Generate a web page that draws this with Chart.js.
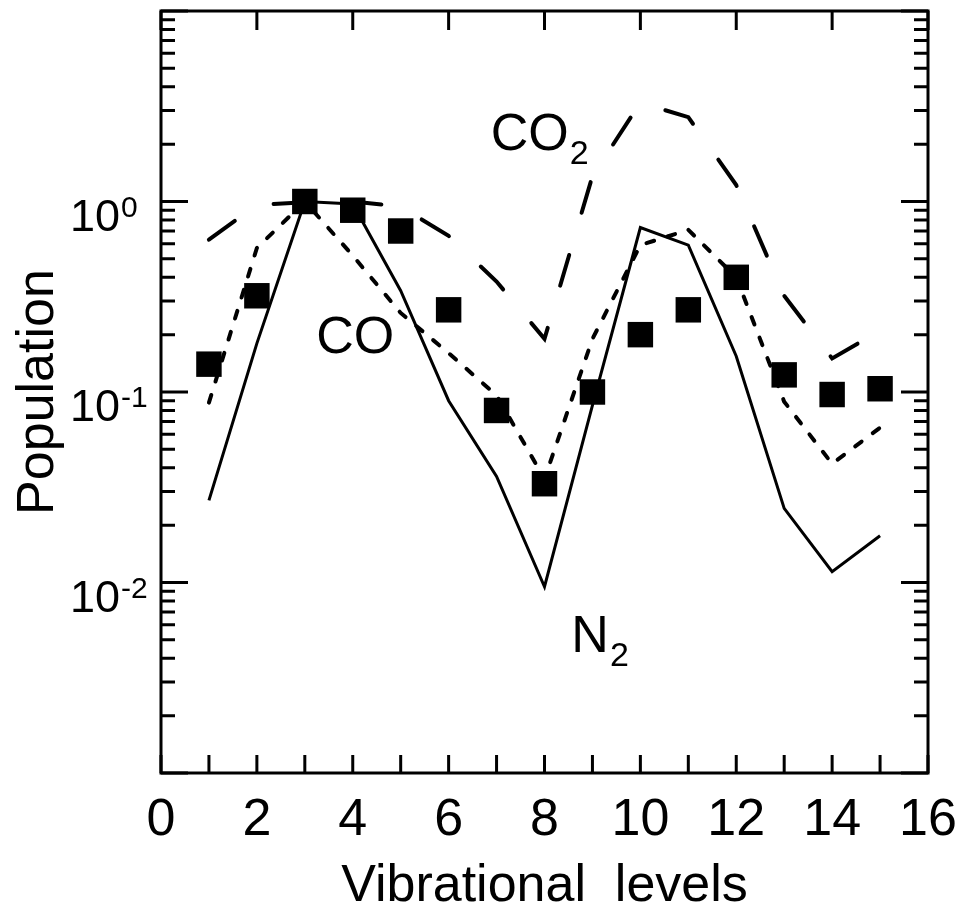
<!DOCTYPE html>
<html>
<head>
<meta charset="utf-8">
<script src="https://cdn.jsdelivr.net/npm/chart.js@4"></script>
<style>
  body { margin: 0; background: #fff; }
  #myChart { display: block; }
</style>
</head>
<body>
<canvas id="myChart" width="960" height="904"></canvas>
<script>
// DATA
const levels = [1, 2, 3, 4, 5, 6, 7, 8, 9, 10, 11, 12, 13, 14, 15];
const measured = [0.14, 0.32, 1.0, 0.90, 0.70, 0.27, 0.080, 0.033, 0.10, 0.20, 0.27, 0.40, 0.123, 0.097, 0.104];
const n2Values = [0.027, 0.18, 1.0, 0.97, 0.34, 0.09, 0.036, 0.0095, 0.085, 0.73, 0.59, 0.154, 0.0245, 0.0114, 0.0176];
const coValues = [0.088, 0.57, 1.0, 0.52, 0.26, 0.16, 0.096, 0.035, 0.19, 0.59, 0.71, 0.40, 0.089, 0.042, 0.065];
const co2Values = [0.63, 0.96, 0.99, 1.0, 0.94, 0.66, 0.38, 0.19, 1.36, 3.3, 2.77, 1.22, 0.32, 0.15, 0.21];

// TICKS
const xTicks = [0, 1, 2, 3, 4, 5, 6, 7, 8, 9, 10, 11, 12, 13, 14, 15, 16];
const xLabels = [0, 2, 4, 6, 8, 10, 12, 14, 16];
const yDecades = [0.001, 0.01, 0.1, 1, 10];
const yLabelValues = [1, 0.1, 0.01];
const yLabelExps = ['0', '-1', '-2'];

const FONT = '"Liberation Sans", Arial, Helvetica, sans-serif';

function toPoints(values) {
  return levels.map((lv, i) => ({ x: lv, y: values[i] }));
}

// FRAME, TICKS AND TEXT
const framePlugin = {
  id: 'frame',
  afterDraw(chart) {
    const ctx = chart.ctx;
    const a = chart.chartArea;
    const xs = chart.scales.x;
    const ys = chart.scales.y;
    ctx.save();
    ctx.strokeStyle = '#000';
    ctx.fillStyle = '#000';
    ctx.lineWidth = 3;
    ctx.lineCap = 'butt';
    ctx.strokeRect(a.left, a.top, a.right - a.left, a.bottom - a.top);

    ctx.beginPath();
    xTicks.forEach(v => {
      const px = xs.getPixelForValue(v);
      ctx.moveTo(px, a.bottom);
      ctx.lineTo(px, a.bottom - 18);
    });
    xLabels.forEach(v => {
      const px = xs.getPixelForValue(v);
      ctx.moveTo(px, a.top);
      ctx.lineTo(px, a.top + 19);
    });
    yDecades.forEach((d, i) => {
      const py = ys.getPixelForValue(d);
      ctx.moveTo(a.left, py);
      ctx.lineTo(a.left + 27, py);
      ctx.moveTo(a.right, py);
      ctx.lineTo(a.right - 27, py);
      if (i < yDecades.length - 1) {
        for (let m = 2; m <= 9; m++) {
          const pm = ys.getPixelForValue(d * m);
          ctx.moveTo(a.left, pm);
          ctx.lineTo(a.left + 14, pm);
          ctx.moveTo(a.right, pm);
          ctx.lineTo(a.right - 14, pm);
        }
      }
    });
    ctx.stroke();

    // x tick labels
    ctx.font = '52px ' + FONT;
    ctx.textAlign = 'center';
    ctx.textBaseline = 'alphabetic';
    xLabels.forEach(v => {
      ctx.fillText(String(v), xs.getPixelForValue(v), a.bottom + 62);
    });

    // y tick labels 10^n
    yLabelValues.forEach((v, i) => {
      const py = ys.getPixelForValue(v);
      ctx.font = '45px ' + FONT;
      ctx.textAlign = 'right';
      ctx.fillText('10', 120, py + 29);
      ctx.font = '30px ' + FONT;
      ctx.textAlign = 'left';
      ctx.fillText(yLabelExps[i], 121, py + 15);
    });

    // axis titles
    ctx.font = '52px ' + FONT;
    ctx.textAlign = 'center';
    ctx.fillText('Vibrational  levels', (a.left + a.right) / 2, 901);
    ctx.save();
    ctx.translate(53, (a.top + a.bottom) / 2);
    ctx.rotate(-Math.PI / 2);
    ctx.fillText('Population', 0, 0);
    ctx.restore();

    // curve labels
    const label = (main, sub, xv, yv) => {
      const px = xs.getPixelForValue(xv);
      const py = ys.getPixelForValue(yv);
      ctx.textAlign = 'left';
      ctx.font = '52px ' + FONT;
      ctx.fillText(main, px, py);
      if (sub) {
        const w = ctx.measureText(main).width;
        ctx.font = '34px ' + FONT;
        ctx.fillText(sub, px + w + 1, py + 14);
      }
    };
    label('CO', '2', 6.88, 1.87);
    label('CO', '', 3.24, 0.16);
    label('N', '2', 8.56, 0.0043);
    ctx.restore();
  }
};

// POPULATION CHART
const ctx = document.getElementById('myChart').getContext('2d');
const myChart = new Chart(ctx, {
  type: 'line',
  data: {
    datasets: [{
      label: 'Measured',
      data: toPoints(measured),
      showLine: false,
      pointStyle: 'rect',
      pointRadius: 18,
      pointBorderWidth: 0,
      pointBackgroundColor: '#000'
    }, {
      label: 'N2',
      data: toPoints(n2Values),
      borderColor: '#000',
      borderWidth: 3,
      pointRadius: 0
    }, {
      label: 'CO',
      data: toPoints(coValues),
      borderColor: '#000',
      borderWidth: 4,
      borderDash: [8, 14],
      borderCapStyle: 'round',
      pointRadius: 0
    }, {
      label: 'CO2',
      data: toPoints(co2Values),
      borderColor: '#000',
      borderWidth: 4,
      borderDash: [32, 44],
      borderCapStyle: 'round',
      pointRadius: 0
    }]
  },
  options: {
    responsive: false,
    animation: false,
    devicePixelRatio: 1,
    layout: { autoPadding: false, padding: { left: 161, right: 32, top: 11, bottom: 131 } },
    plugins: { legend: { display: false }, tooltip: { enabled: false } },
    scales: {
      x: { type: 'linear', min: 0, max: 16, display: false },
      y: { type: 'logarithmic', min: 0.001, max: 10, display: false }
    }
  },
  plugins: [framePlugin]
});
</script>
</body>
</html>
